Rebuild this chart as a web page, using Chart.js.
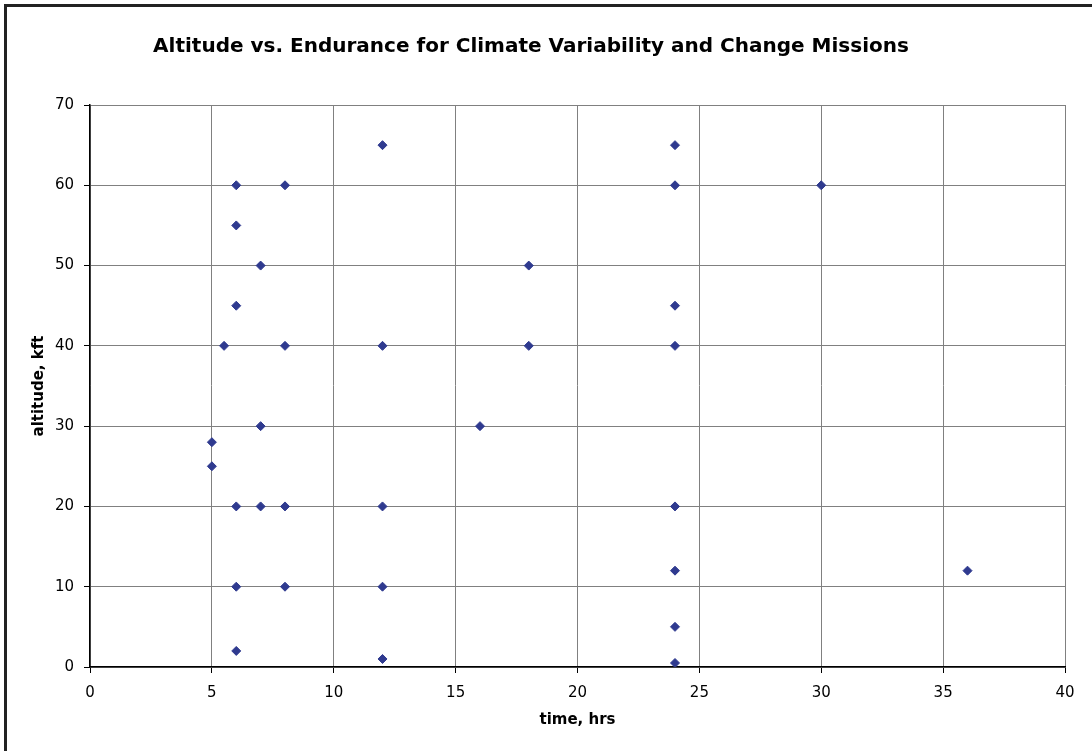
<!DOCTYPE html>
<html>
<head>
<meta charset="utf-8">
<script src="https://cdn.jsdelivr.net/npm/chart.js@4"></script>
<style>
  body { margin: 0; background: #fff; }
  #wrap { width: 1092px; height: 751px; }
</style>
</head>
<body>
<div id="wrap"><canvas id="chart"></canvas></div>
<script>
// time (hrs) and altitude (kft) of each mission
const timeHrs = [6, 8, 12, 24, 24, 30, 6, 7, 18, 6, 24, 5.5, 8, 12, 18, 24, 7, 16, 5, 5, 6, 7, 8, 12, 24, 6, 8, 12, 24, 36, 24, 6, 12, 24];
const altKft = [60, 60, 65, 65, 60, 60, 55, 50, 50, 45, 45, 40, 40, 40, 40, 40, 30, 30, 28, 25, 20, 20, 20, 20, 20, 10, 10, 10, 12, 12, 5, 2, 1, 0.5];
const chartTitle = "Altitude vs. Endurance for Climate Variability and Change Missions";

const points = timeHrs.map((t, i) => ({ x: t, y: altKft[i] }));
const FONT = "'DejaVu Sans', Verdana, sans-serif";

// frame + title drawn by hand so the title can sit where excel put it
const frame = {
  id: "frame",
  afterDraw(chart) {
    const ctx = chart.ctx;
    ctx.save();
    ctx.strokeStyle = "#222";
    ctx.lineWidth = 3;
    ctx.beginPath();
    ctx.moveTo(5.5, 751);
    ctx.lineTo(5.5, 5.5);
    ctx.lineTo(1092, 5.5);
    ctx.stroke();
    ctx.fillStyle = "#000";
    ctx.font = "bold 20px " + FONT;
    ctx.textAlign = "center";
    ctx.textBaseline = "middle";
    ctx.fillText(chartTitle, 531, 47);
    ctx.restore();
  },
};

new Chart(document.getElementById("chart"), {
  type: "scatter",
  data: {
    datasets: [
      {
        data: points,
        pointStyle: "rectRot",
        pointRadius: 4.5,
        pointBackgroundColor: "#2f3a8f",
        pointBorderColor: "#2f3a8f",
        pointBorderWidth: 1,
      },
    ],
  },
  options: {
    responsive: true,
    maintainAspectRatio: false,
    animation: false,
    layout: {
      padding: { top: 105, right: 27, left: 0, bottom: 0 },
    },
    plugins: {
      legend: { display: false },
      tooltip: { enabled: false },
    },
    scales: {
      x: {
        type: "linear",
        min: 0,
        max: 40,
        afterFit: (scale) => {
          scale.height = 84;
        },
        ticks: {
          stepSize: 5,
          color: "#000",
          padding: 11,
          maxRotation: 0,
          font: { family: FONT, size: 15 },
        },
        grid: {
          color: "#808080",
          tickColor: "#000",
          tickLength: 6,
        },
        border: { color: "#000", width: 1.5 },
        title: {
          display: true,
          text: "time, hrs",
          color: "#000",
          padding: { top: 0, bottom: 22 },
          font: { family: FONT, size: 15, weight: "bold" },
        },
      },
      y: {
        min: 0,
        max: 70,
        afterFit: (scale) => {
          scale.width = 90;
        },
        ticks: {
          stepSize: 10,
          color: "#000",
          padding: 10,
          font: { family: FONT, size: 15 },
        },
        grid: {
          color: "#808080",
          tickColor: "#000",
          tickLength: 6,
        },
        border: { color: "#000", width: 1.5 },
        title: {
          display: true,
          text: "altitude, kft",
          color: "#000",
          padding: { top: 30, bottom: 0 },
          font: { family: FONT, size: 15, weight: "bold" },
        },
      },
    },
  },
  plugins: [frame],
});
</script>
</body>
</html>
